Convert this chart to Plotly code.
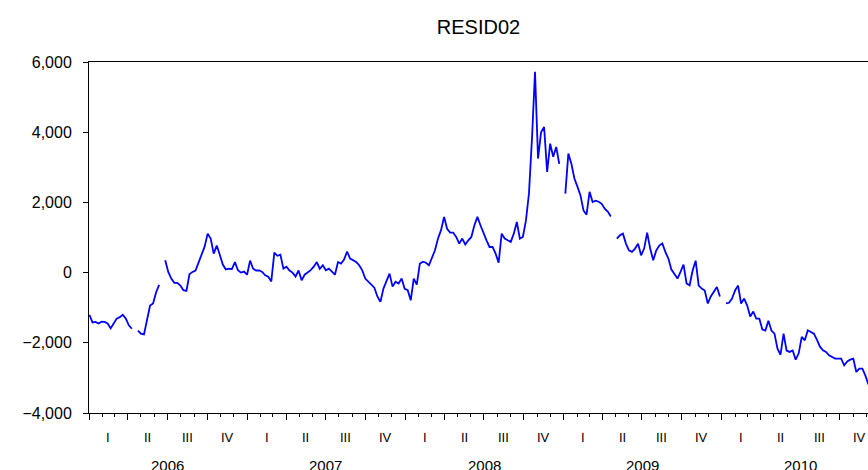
import pandas as pd
import plotly.graph_objects as go

# weekly readings of RESID02 (Jan 2006 - Dec 2010), None = missing stretch
resid02 = [
    -1200, -1420, -1405, -1450, -1400, -1405, -1450, -1590, -1450, -1310,
    -1270, -1200, -1310, -1500, -1600, None, -1650, -1740, -1760, -1310,
    -940, -880, -560, -350, None, 350, 20, -170, -290, -290,
    -370, -500, -520, -50, 20, 60, 290, 540, 740, 1110,
    970, 540, 770, 510, 230, 90, 110, 100, 300, 66,
    0, 30, -60, 340, 110, 60, 60, 20, -76, -120,
    -250, 570, 480, 510, 114, 170, 60, 0, -110, 60,
    -220, -60, 0, 70, 170, 300, 110, 210, 66, 114,
    30, -60, 300, 256, 370, 600, 400, 350, 300, 210,
    66, -170, -266, -360, -430, -680, -835, -456, -220, -28,
    -400, -260, -310, -170, -460, -500, -790, -170, -340, 250,
    310, 280, 210, 400, 636, 970, 1210, 1586, 1250, 1140,
    1140, 1015, 826, 970, 800, 920, 1015, 1350, 1586, 1350,
    1110, 920, 730, 730, 540, 280, 1110, 970, 920, 875,
    1110, 1444, 970, 1015, 1480, 2250, 3818, 5718, 3250, 4000,
    4150, 2870, 3675, 3300, 3580, 3100, None, 2250, 3390, 3100,
    2680, 2450, 2200, 1770, 1650, 2300, 2010, 2050, 2020, 1960,
    1820, 1740, 1600, None, 970, 1063, 1110, 826, 636, 590,
    684, 826, 494, 684, 1140, 684, 350, 630, 770, 830,
    590, 400, 85, -60, -170, 20, 230, -310, -360, 60,
    340, -370, -456, -510, -880, -680, -540, -408, -680, None,
    -880, -860, -740, -510, -370, -880, -740, -940, -1250, -1110,
    -1310, -1310, -1620, -1650, -1370, -1650, -1740, -2165, -2340, -1740,
    -2220, -2260, -2220, -2480, -2300, -1833, -1930, -1643, -1690, -1740,
    -1910, -2110, -2213, -2260, -2355, -2402, -2450, -2450, -2450, -2640,
    -2530, -2480, -2450, -2830, -2735, -2735, -2935, -3190,
]
dates = pd.date_range("2006-01-02", periods=len(resid02), freq="7D")

years = [2006, 2007, 2008, 2009, 2010]
quarter_names = ["I", "II", "III", "IV"]
y_ticks = [-4000, -2000, 0, 2000, 4000, 6000]

FONT = "Liberation Sans, Arial, sans-serif"

fig = go.Figure()
fig.add_trace(go.Scatter(
    x=dates, y=resid02, mode="lines",
    line=dict(color="#0000ff", width=1.8),
    connectgaps=False, showlegend=False,
))

# quarter boundaries get the long ticks, months the short ones
q_starts = pd.date_range("2006-01-01", "2011-01-01", freq="QS")
for i, start in enumerate(q_starts[:-1]):
    mid = start + (q_starts[i + 1] - start) / 2
    fig.add_annotation(
        x=mid, y=0, xref="x", yref="paper", yanchor="middle", yshift=-24,
        text=quarter_names[start.quarter - 1], showarrow=False,
        font=dict(family=FONT, size=13, color="black"),
    )
for yr in years:
    fig.add_annotation(
        x=pd.Timestamp(f"{yr}-07-02"), y=0, xref="x", yref="paper",
        yanchor="middle", yshift=-52,
        text=str(yr), showarrow=False,
        font=dict(family=FONT, size=15, color="black"),
    )

fig.update_layout(
    width=868, height=470,
    margin=dict(l=89, r=0, t=62, b=57),
    paper_bgcolor="white", plot_bgcolor="white",
    title=dict(text="RESID02", x=0.5, xref="paper", y=1 - 27 / 470,
               yanchor="middle", font=dict(family=FONT, size=20, color="black")),
    font=dict(family=FONT, color="black"),
)
fig.update_xaxes(
    type="date", range=["2006-01-01", "2010-12-05"],
    tickmode="array", tickvals=list(q_starts), showticklabels=False,
    ticks="outside", ticklen=6, tickwidth=1, tickcolor="black",
    minor=dict(tickmode="linear", tick0="2006-01-01", dtick="M1",
               ticks="outside", ticklen=3, tickwidth=1, tickcolor="black"),
    showline=True, linecolor="black", linewidth=1, mirror=True,
    showgrid=False, zeroline=False,
)
fig.update_yaxes(
    range=[-4000, 6000], tickmode="array", tickvals=y_ticks,
    tickformat=",d", ticks="outside", ticklen=5, tickcolor="black",
    ticklabelstandoff=8, tickfont=dict(family=FONT, size=16, color="black"),
    showline=True, linecolor="black", linewidth=1, mirror=False,
    showgrid=False, zeroline=False,
)

# drop the page margin and scrollbars so the figure fills the window exactly
fig.write_html(
    "out.html",
    config={"displayModeBar": False},
    post_script="document.body.style.margin='0';"
                "document.body.style.overflow='hidden';",
)
